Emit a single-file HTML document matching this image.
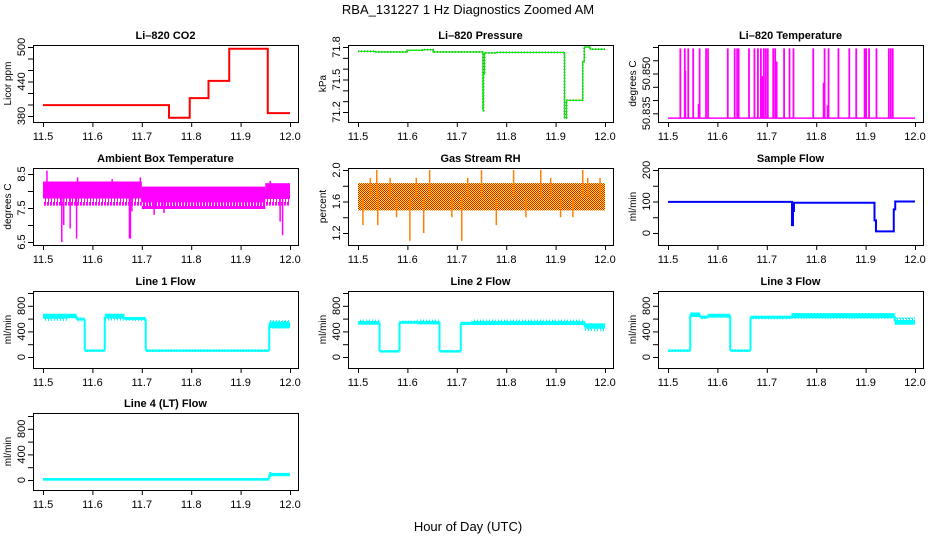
<!DOCTYPE html>
<html><head><meta charset="utf-8"><style>
html,body{margin:0;padding:0;background:#fff;}
svg{display:block;font-family:"Liberation Sans",sans-serif;}
</style></head><body>
<svg id="chart" width="936" height="540" viewBox="0 0 936 540">
<defs>
<pattern id="rhPat" width="2" height="2" patternUnits="userSpaceOnUse">
<rect width="2" height="2" fill="#ffff00"/><rect width="1" height="1" fill="#ff0000"/><rect x="1" y="1" width="1" height="1" fill="#ff0000"/>
</pattern>
<pattern id="magPat" width="3" height="40" patternUnits="userSpaceOnUse">
<rect x="0" y="0" width="1" height="40" fill="#ff00ff"/><rect x="1" y="6" width="1" height="28" fill="#ff00ff"/><rect x="2" y="2" width="1" height="33" fill="#ff00ff"/>
</pattern>
<pattern id="cyanPat" width="3" height="10" patternUnits="userSpaceOnUse">
<rect x="0" y="0" width="1" height="10" fill="#00ffff"/><rect x="1" y="2" width="1" height="6" fill="#00ffff"/><rect x="2" y="1" width="1" height="8" fill="#00ffff"/>
</pattern>
</defs>
<text x="468" y="14" text-anchor="middle" font-size="13">RBA_131227  1 Hz Diagnostics Zoomed AM</text>
<text x="468" y="531" text-anchor="middle" font-size="13">Hour of Day (UTC)</text>
</svg>
<script>
// ---- shared axis data ----
const hourTicks = [11.5, 11.6, 11.7, 11.8, 11.9, 12.0];
const hourLabels = ["11.5", "11.6", "11.7", "11.8", "11.9", "12.0"];

// ---- CO2 ----
const co2Times = [11.5, 11.755, 11.797, 11.835, 11.877, 11.955];
const co2Levels = [399, 377, 411, 441, 497, 385];
const co2Ticks = [380, 400, 420, 440, 460, 480, 500];
const co2Labels = ["380", "440", "500"];

// ---- Pressure ----
const presTimes = [11.5, 11.535, 11.6, 11.63, 11.652, 11.753, 11.754, 11.756, 11.78, 11.918, 11.922, 11.925, 11.955, 11.958, 11.962, 11.97];
const presLevels = [71.76, 71.754, 71.77, 71.775, 71.754, 71.212, 71.55, 71.745, 71.75, 71.145, 71.308, 71.308, 71.66, 71.80, 71.80, 71.78];
const presTicks = [71.2, 71.3, 71.4, 71.5, 71.6, 71.7, 71.8];
const presLabels = ["71.2", "71.5", "71.8"];

// ---- Li-820 Temperature ----
const tempBase = 50.8332;
const tempSpikeX = [11.525,11.534,11.535,11.541,11.551,11.562,11.564,11.577,11.581,11.621,11.635,11.640,11.643,11.664,11.675,11.682,11.688,11.691,11.694,11.698,11.702,11.713,11.717,11.720,11.735,11.746,11.754,11.794,11.815,11.817,11.823,11.825,11.845,11.867,11.881,11.898,11.901,11.907,11.922,11.947,11.951,11.955];
const tempSpikeTop = [50.8595,50.8595,50.851,50.8595,50.8595,50.8385,50.8595,50.8595,50.8595,50.8595,50.8595,50.8595,50.8595,50.8595,50.8595,50.8595,50.8595,50.849,50.8595,50.8595,50.8595,50.8595,50.8595,50.8545,50.8595,50.8595,50.8595,50.8595,50.8465,50.8595,50.838,50.8595,50.8595,50.8595,50.8595,50.8595,50.8595,50.8595,50.8595,50.8595,50.8595,50.8595];
const tempTicks = [50.835, 50.840, 50.845, 50.850, 50.855, 50.860];
const tempLabels = ["50.835", "50.850"];

// ---- Ambient box temperature ----
const ambStart = [11.5, 11.7, 11.95];
const ambEnd = [11.7, 11.95, 12.0];
const ambLo = [7.6, 7.5, 7.6];
const ambHi = [8.25, 8.1, 8.2];
const ambSpikeX = [11.508, 11.538, 11.542, 11.555, 11.568, 11.570, 11.64, 11.675, 11.677, 11.68, 11.697, 11.725, 11.745, 11.96, 11.98, 11.985];
const ambSpikeY = [8.6, 6.5, 7.0, 6.9, 6.6, 8.4, 8.35, 6.6, 6.6, 7.4, 8.4, 7.3, 7.35, 8.3, 7.1, 6.7];
const ambTicks = [6.5, 7.0, 7.5, 8.0, 8.5];
const ambLabels = ["6.5", "7.5", "8.5"];

// ---- Gas stream RH ----
const rhStart = [11.5];
const rhEnd = [12.0];
const rhLo = [1.5];
const rhHi = [1.82];
const rhSpikeX = [11.51, 11.525, 11.538, 11.54, 11.565, 11.578, 11.605, 11.618, 11.633, 11.645, 11.69, 11.71, 11.722, 11.75, 11.78, 11.815, 11.84, 11.87, 11.89, 11.91, 11.935, 11.955, 11.965, 11.99];
const rhSpikeY = [1.3, 1.9, 2.0, 1.3, 1.9, 1.4, 1.1, 1.9, 1.2, 2.0, 1.4, 1.1, 1.9, 2.0, 1.3, 2.0, 1.4, 2.0, 1.9, 1.4, 1.4, 2.0, 1.9, 1.9];
const rhTicks = [1.2, 1.4, 1.6, 1.8, 2.0];
const rhLabels = ["1.2", "1.6", "2.0"];

// ---- Sample flow ----
const sfTimes = [11.5, 11.751, 11.753, 11.755, 11.918, 11.921, 11.957, 11.96];
const sfLevels = [99, 25, 70, 96, 40, 5, 75, 100];
const sfTicks = [0, 50, 100, 150, 200];
const sfLabels = ["0", "100", "200"];

// ---- Line flows ----
const flowTicks = [0, 200, 400, 600, 800, 1000];
const flowLabels = ["0", "400", "800"];
const l1Start = [11.5, 11.55, 11.568, 11.5845, 11.625, 11.665, 11.708, 11.958];
const l1Lo = [580, 620, 575, 95, 585, 580, 95, 460];
const l1Hi = [660, 660, 600, 105, 660, 610, 105, 560];
const l2Start = [11.5, 11.5436, 11.584, 11.62, 11.665, 11.708, 11.73, 11.959];
const l2Lo = [520, 85, 535, 525, 85, 515, 515, 420];
const l2Hi = [570, 95, 555, 570, 95, 535, 570, 510];
const l3Start = [11.5, 11.545, 11.565, 11.58, 11.626, 11.667, 11.75, 11.959];
const l3Lo = [95, 640, 610, 630, 95, 605, 615, 520];
const l3Hi = [105, 680, 630, 660, 105, 630, 670, 600];
const l4Start = [11.5, 11.958, 11.962];
const l4Lo = [5, 60, 75];
const l4Hi = [15, 110, 95];

const NS = "http://www.w3.org/2000/svg";
const svg = document.getElementById("chart");
function mk(tag, attrs, parent) {
  const e = document.createElementNS(NS, tag);
  for (const k in attrs) e.setAttribute(k, attrs[k]);
  (parent || svg).appendChild(e);
  return e;
}
const colLeft = [33, 348, 658];
const rowTop = [45, 168, 291, 413];
const W = 265, H = 77;

function makePanel(col, row, title, ylab, refA, refB, yTicks, yLabels, name) {
  const L = colLeft[col], T = rowTop[row];
  const g = mk("g", {});
  
  
  const xs = h => L + 10 + (h - 11.5) * 494;
  const ys = v => T + refA[1] + (v - refA[0]) * (refB[1] - refA[1]) / (refB[0] - refA[0]);
  const clip = mk("clipPath", { id: "clip-" + name }, g);
  mk("rect", { x: L, y: T, width: W, height: H }, clip);
  const plot = mk("g", { "clip-path": "url(#clip-" + name + ")" }, g);
  
  
  const box = mk("rect", { x: L + 0.5, y: T + 0.5, width: W, height: H, fill: "none", stroke: "#000", "stroke-width": 1 }, g);
  
  
  const t = mk("text", { x: L + W / 2, y: T - 6, "text-anchor": "middle", "font-size": 11, "font-weight": "bold" }, g);
  t.textContent = title;
  
  
  const xa = mk("g", {}, g);
  
  
  mk("line", { x1: xs(hourTicks[0]), x2: xs(hourTicks[hourTicks.length - 1]), y1: T + H + 0.5, y2: T + H + 0.5, stroke: "#000" }, xa);
  hourTicks.forEach((h, i) => {
    mk("line", { x1: xs(h) + 0.5, x2: xs(h) + 0.5, y1: T + H, y2: T + H + 5, stroke: "#000" }, xa);
    const tl = mk("text", { x: xs(h), y: T + H + 18, "text-anchor": "middle", "font-size": 11 }, xa);
    tl.textContent = hourLabels[i];
    
    
  });
  const ya = mk("g", {}, g);
  
  
  mk("line", { x1: L + 0.5, x2: L + 0.5, y1: ys(yTicks[0]), y2: ys(yTicks[yTicks.length - 1]), stroke: "#000" }, ya);
  yTicks.forEach(v => {
    mk("line", { x1: L - 5, x2: L, y1: ys(v) + 0.5, y2: ys(v) + 0.5, stroke: "#000" }, ya);
  });
  yLabels.forEach(s => {
    const v = parseFloat(s);
    const yl = mk("text", { transform: "translate(" + (L - 8) + "," + ys(v) + ") rotate(-90)", "text-anchor": "middle", "font-size": 11 }, ya);
    yl.textContent = s;
    
    
  });
  const yt = mk("text", { transform: "translate(" + (L - 22) + "," + (T + H / 2) + ") rotate(-90)", "text-anchor": "middle", "font-size": 10 }, g);
  yt.textContent = ylab;
  
  
  return { plot, xs, ys };
}

function stepLine(p, times, levels, color, width, name, dash) {
  let d = "";
  times.forEach((t, i) => {
    const x1 = p.xs(t), x2 = p.xs(i + 1 < times.length ? times[i + 1] : 12.0), y = p.ys(levels[i]);
    d += (i === 0 ? "M" : "L") + x1 + "," + y + "L" + x2 + "," + y;
  });
  const e = mk("path", { d, fill: "none", stroke: color, "stroke-width": width }, p.plot);
  if (dash) e.setAttribute("stroke-dasharray", dash);
  
  
}
function bands(p, starts, ends, lo, hi, fill, color, name) {
  starts.forEach((s, i) => {
    const e = ends ? ends[i] : (i + 1 < starts.length ? starts[i + 1] : 12.0);
    const yt = p.ys(hi[i]), yb = p.ys(lo[i]);
    const r = mk("rect", { x: p.xs(s), y: Math.min(yt, yb) - 1, width: p.xs(e) - p.xs(s), height: Math.abs(yb - yt) + 2, fill: fill }, p.plot);
    
    
    const mid = p.ys((lo[i] + hi[i]) / 2);
    const core = Math.max(2, Math.abs(yb - yt) * 0.45);
    const c = mk("rect", { x: p.xs(s), y: mid - core / 2, width: p.xs(e) - p.xs(s), height: core, fill: color }, p.plot);
    
    
    if (i > 0) {
      const pm = (lo[i - 1] + hi[i - 1]) / 2, cm = (lo[i] + hi[i]) / 2;
      const t = mk("line", { x1: p.xs(s), x2: p.xs(s), y1: p.ys(pm), y2: p.ys(cm), stroke: color, "stroke-width": 2 }, p.plot);
      
      
    }
  });
}
function spikes(p, xs, from, tops, color, width, name) {
  xs.forEach((x, i) => {
    const l = mk("line", { x1: p.xs(x), x2: p.xs(x), y1: p.ys(from), y2: p.ys(tops[i]), stroke: color, "stroke-width": width }, p.plot);
    
    
  });
}

// Row 1
let p = makePanel(0, 0, "Li\u2013820 CO2", "Licor ppm", [500, 2], [380, 71], co2Ticks, co2Labels, "co2");
stepLine(p, co2Times, co2Levels, "#ff0000", 2, "co2-line");
p = makePanel(1, 0, "Li\u2013820 Pressure", "kPa", [71.8, 2], [71.2, 67], presTicks, presLabels, "pressure");
stepLine(p, presTimes, presLevels, "#000", 1.6, "pressure-dotted-line", "1,2");
stepLine(p, presTimes, presLevels, "#00ee00", 1.2, "pressure-line");
p = makePanel(2, 0, "Li\u2013820 Temperature", "degrees C", [50.860, 2], [50.835, 68.3], tempTicks, tempLabels, "li820-temp");
stepLine(p, [11.5], [tempBase], "#ff00ff", 1.5, "li820-temp-baseline");
spikes(p, tempSpikeX, tempBase, tempSpikeTop, "#ff00ff", 1.8, "li820-temp");
// Row 2
p = makePanel(0, 1, "Ambient Box Temperature", "degrees C", [8.5, 6], [6.5, 74], ambTicks, ambLabels, "ambient");
bands(p, ambStart, ambEnd, ambLo, ambHi, "url(#magPat)", "#ff00ff", "ambient-band");
spikes(p, ambSpikeX, 7.9, ambSpikeY, "#ff00ff", 1.5, "ambient");
p = makePanel(1, 1, "Gas Stream RH", "percent", [2.0, 2], [1.2, 65], rhTicks, rhLabels, "rh");
bands(p, rhStart, rhEnd, rhLo, rhHi, "url(#rhPat)", "url(#rhPat)", "rh-band");
spikes(p, rhSpikeX, 1.65, rhSpikeY, "#ff8000", 1.5, "rh");
p = makePanel(2, 1, "Sample Flow", "ml/min", [200, 2], [0, 65], sfTicks, sfLabels, "sample-flow");
stepLine(p, sfTimes, sfLevels, "#0000ff", 2, "sample-flow-line");
// Row 3
p = makePanel(0, 2, "Line 1 Flow", "ml/min", [1000, 2], [0, 66], flowTicks, flowLabels, "line1-flow");
bands(p, l1Start, null, l1Lo, l1Hi, "url(#cyanPat)", "#00ffff", "line1-flow");
p = makePanel(1, 2, "Line 2 Flow", "ml/min", [1000, 2], [0, 66], flowTicks, flowLabels, "line2-flow");
bands(p, l2Start, null, l2Lo, l2Hi, "url(#cyanPat)", "#00ffff", "line2-flow");
p = makePanel(2, 2, "Line 3 Flow", "ml/min", [1000, 2], [0, 66], flowTicks, flowLabels, "line3-flow");
bands(p, l3Start, null, l3Lo, l3Hi, "url(#cyanPat)", "#00ffff", "line3-flow");
// Row 4
p = makePanel(0, 3, "Line 4 (LT) Flow", "ml/min", [1000, 3], [0, 67], flowTicks, flowLabels, "line4-flow");
bands(p, l4Start, null, l4Lo, l4Hi, "#00ffff", "#00ffff", "line4-flow");
</script>
</body></html>
